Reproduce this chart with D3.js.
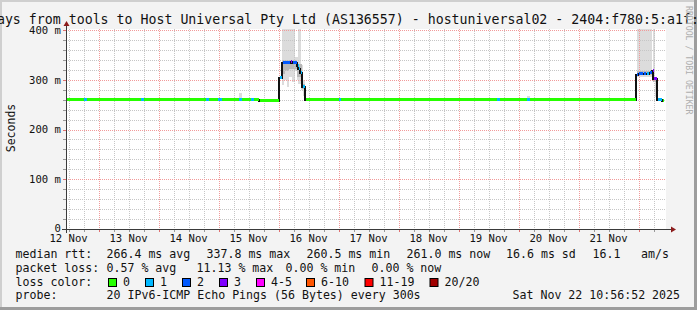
<!DOCTYPE html>
<html>
<head>
<meta charset="utf-8">
<script src="https://cdn.jsdelivr.net/npm/d3@7"></script>
<style>
  html, body { margin: 0; padding: 0; background: #f3f3f3; }
  svg { display: block; }
  text { font-family: "DejaVu Sans Mono", monospace; }
</style>
</head>
<body>
<div id="chart"></div>
<script>
// ---------------- DATA ----------------
const titleText = "10 Days from tools to Host Universal Pty Ltd (AS136557) - hostuniversal02 - 2404:f780:5:a1f::2";
const yAxisTitle = "Seconds";
const watermark = "RRDTOOL / TOBI OETIKER";

// time axis in hours since 12 Nov 00:00 ; graph covers 12 Nov 10:57 -> 22 Nov 10:57
const timeDomain = [10.95, 250.95];
const dayLabels = ["12 Nov", "13 Nov", "14 Nov", "15 Nov", "16 Nov", "17 Nov", "18 Nov", "19 Nov", "20 Nov", "21 Nov"];
const dayLabelHours = [12, 36, 60, 84, 108, 132, 156, 180, 204, 228];

const yDomain = [0, 400];
const yTickValues = [0, 100, 200, 300, 400];
const yTickLabels = ["0", "100 m", "200 m", "300 m", "400 m"];

// median rtt segments: [startHour, endHour, rtt ms, lost pings]
const medianSegments = [
  [10.95, 18.0, 262, 0], [18.0, 19.2, 262, 1], [19.2, 41.0, 262, 0], [41.0, 42.2, 262, 1],
  [42.2, 67.0, 262, 0], [67.0, 68.2, 262, 1], [68.2, 71.6, 262, 0], [71.6, 73.4, 262, 1],
  [73.4, 80.0, 262, 0], [80.0, 81.2, 262, 1], [81.2, 85.0, 262, 0], [85.0, 86.2, 262, 1],
  [86.2, 88.1, 262, 0], [88.1, 96.25, 260, 0],
  [96.25, 97.2, 306, 1], [97.2, 100.5, 336, 2], [100.5, 101.2, 337, 3], [101.2, 103.2, 336, 2],
  [103.2, 103.9, 330, 1], [103.9, 104.6, 323, 1], [104.6, 105.4, 316, 1], [105.4, 106.6, 287, 1],
  [106.6, 120.0, 261, 0], [120.0, 121.0, 261, 1], [121.0, 183.4, 261, 0], [183.4, 184.4, 261, 1],
  [184.4, 195.4, 261, 0], [195.4, 196.4, 261, 1], [196.4, 238.97, 261, 0],
  [238.97, 239.87, 312, 2], [239.87, 241.87, 313, 2], [241.87, 242.83, 314, 2], [242.83, 244.15, 313, 1],
  [244.15, 245.23, 315, 2], [245.23, 245.87, 320, 3], [245.87, 247.15, 303, 3],
  [247.15, 247.87, 262, 0], [247.87, 249.23, 262, 1], [249.23, 249.95, 260, 0]
];

// smoke (ping spread): [startHour, endHour, low ms, high ms]
const smokeOuter = [
  [97.2, 98.0, 290, 430], [98.0, 99.2, 300, 430], [99.2, 100.0, 286, 430], [100.0, 101.2, 305, 430],
  [101.2, 102.6, 295, 430], [102.6, 103.2, 318, 345], [103.2, 103.9, 300, 345], [103.9, 105.0, 292, 430],
  [105.0, 105.6, 280, 330], [105.6, 106.4, 268, 300],
  [80.0, 81.2, 262, 274], [195.4, 196.4, 261, 268],
  [239.2, 245.2, 305, 430], [245.9, 246.7, 298, 430], [246.7, 247.15, 265, 303]
];
const smokeInner = [
  [97.2, 98.4, 312, 340], [98.4, 100.0, 318, 340], [100.0, 103.2, 322, 340],
  [103.2, 105.4, 305, 332], [105.4, 106.4, 282, 292],
  [239.2, 245.2, 310, 318], [245.9, 247.1, 296, 306]
];

const lossLabels = ["0", "1", "2", "3", "4-5", "6-10", "11-19", "20/20"];
const lossColors = ["#26ff00", "#00b8ff", "#0059ff", "#7e00ff", "#ff00ff", "#ff5500", "#ff0000", "#a10000"];

const rttStats = ["266.4 ms avg", "337.8 ms max", "260.5 ms min", "261.0 ms now", "16.6 ms sd", "16.1", "am/s"];
const lossStats = ["0.57 % avg", "11.13 % max", "0.00 % min", "0.00 % now"];
const probeText = "20 IPv6-ICMP Echo Pings (56 Bytes) every 300s";
const stampText = "Sat Nov 22 10:56:52 2025";

// ---------------- LAYOUT ----------------
const W = 697, H = 310;
const plot = { left: 66, right: 666, top: 29, bottom: 229 };

const svg = d3.select("#chart").append("svg").attr("width", W).attr("height", H);

// background + 3D shade
svg.append("rect").attr("x", 0).attr("y", 0).attr("width", W).attr("height", H).attr("fill", "#f3f3f3");
svg.append("path").attr("d", `M0,0 H${W} V2 H2 V${H} H0 Z`).attr("fill", "#cfcfcf");
svg.append("path").attr("d", `M${W},0 V${H} H0 V${H - 3} H${W - 3} V0 Z`).attr("fill", "#9d9d9d");

svg.append("rect").attr("x", plot.left).attr("y", plot.top)
  .attr("width", plot.right - plot.left).attr("height", plot.bottom - plot.top).attr("fill", "#ffffff");

const x = d3.scaleLinear().domain(timeDomain).range([plot.left, plot.right]);
const y = d3.scaleLinear().domain(yDomain).range([plot.bottom, 30]);

svg.append("clipPath").attr("id", "pc").append("rect")
  .attr("x", plot.left).attr("y", plot.top).attr("width", plot.right - plot.left).attr("height", plot.bottom - plot.top);

const gPlot = svg.append("g").attr("clip-path", "url(#pc)").attr("shape-rendering", "crispEdges");

// smoke
gPlot.selectAll("rect.so").data(smokeOuter).join("rect").attr("class", "so")
  .attr("x", d => x(d[0])).attr("width", d => x(d[1]) - x(d[0]))
  .attr("y", d => y(d[3])).attr("height", d => y(d[2]) - y(d[3]))
  .attr("fill", "#dcdcdc");
gPlot.selectAll("rect.si").data(smokeInner).join("rect").attr("class", "si")
  .attr("x", d => x(d[0])).attr("width", d => x(d[1]) - x(d[0]))
  .attr("y", d => y(d[3])).attr("height", d => y(d[2]) - y(d[3]))
  .attr("fill", "#b8b8b8");

// grid
const minorY = d3.range(20, 400, 20).filter(v => v % 100 !== 0);
const majorY = [100, 200, 300, 400];
const hoursAll = d3.range(12, 251, 6);
const majorX = hoursAll.filter(h => h % 24 === 0);
const minorX = hoursAll.filter(h => h % 24 !== 0);

const gGrid = svg.append("g");
gGrid.selectAll("line.my").data(minorY).join("line")
  .attr("x1", plot.left).attr("x2", plot.right)
  .attr("y1", d => Math.round(y(d)) + 0.5).attr("y2", d => Math.round(y(d)) + 0.5)
  .attr("stroke", "#c6c6c6").attr("stroke-dasharray", "1,1");
gGrid.selectAll("line.mx").data(minorX).join("line")
  .attr("y1", plot.top).attr("y2", plot.bottom)
  .attr("x1", d => Math.round(x(d)) + 0.5).attr("x2", d => Math.round(x(d)) + 0.5)
  .attr("stroke", "#c6c6c6").attr("stroke-dasharray", "1,1");
gGrid.selectAll("line.My").data(majorY).join("line")
  .attr("x1", plot.left).attr("x2", plot.right)
  .attr("y1", d => Math.round(y(d)) + 0.5).attr("y2", d => Math.round(y(d)) + 0.5)
  .attr("stroke", "#f19a9a").attr("stroke-dasharray", "1,1");
gGrid.selectAll("line.Mx").data(majorX).join("line")
  .attr("y1", plot.top).attr("y2", plot.bottom)
  .attr("x1", d => Math.round(x(d)) + 0.5).attr("x2", d => Math.round(x(d)) + 0.5)
  .attr("stroke", "#f19a9a").attr("stroke-dasharray", "1,1");

// median: black step line (vertical joins) then colored segments
const gLine = svg.append("g").attr("clip-path", "url(#pc)").attr("shape-rendering", "crispEdges");
const stepPts = [];
medianSegments.forEach(s => stepPts.push([s[0], s[2]]));
const last = medianSegments[medianSegments.length - 1];
stepPts.push([last[1], last[2]]);
const stepLine = d3.line().x(d => Math.round(x(d[0]))).y(d => Math.round(y(d[1])) + 0.5).curve(d3.curveStepAfter);
gLine.append("path").attr("d", stepLine(stepPts)).attr("fill", "none")
  .attr("stroke", "#111").attr("stroke-width", 2);

const lossIndex = n => n <= 3 ? n : n <= 5 ? 4 : n <= 10 ? 5 : n <= 19 ? 6 : 7;
gLine.selectAll("rect.seg").data(medianSegments).join("rect").attr("class", "seg")
  .attr("x", (d, i) => Math.round(x(d[0])) + (i > 0 && medianSegments[i - 1][2] !== d[2] ? 1 : 0))
  .attr("width", (d, i) => Math.max(1, Math.round(x(d[1])) - Math.round(x(d[0])) - (i > 0 && medianSegments[i - 1][2] !== d[2] ? 1 : 0)))
  .attr("y", d => Math.round(y(d[2])) - 1).attr("height", 3)
  .attr("fill", d => lossColors[lossIndex(d[3])]);

// axes
const axisCol = "#3a3a3a";
svg.selectAll("line.yt").data(minorY).join("line")
  .attr("x1", plot.left - 3).attr("x2", plot.left)
  .attr("y1", d => Math.round(y(d)) + 0.5).attr("y2", d => Math.round(y(d)) + 0.5)
  .attr("stroke", "#999");
svg.selectAll("line.yT").data(majorY).join("line")
  .attr("x1", plot.left - 3).attr("x2", plot.left)
  .attr("y1", d => Math.round(y(d)) + 0.5).attr("y2", d => Math.round(y(d)) + 0.5)
  .attr("stroke", "#e07070");
svg.selectAll("line.xt").data(minorX).join("line")
  .attr("y1", plot.bottom).attr("y2", plot.bottom + 3)
  .attr("x1", d => Math.round(x(d)) + 0.5).attr("x2", d => Math.round(x(d)) + 0.5)
  .attr("stroke", "#999");
svg.selectAll("line.xT").data(majorX).join("line")
  .attr("y1", plot.bottom).attr("y2", plot.bottom + 3)
  .attr("x1", d => Math.round(x(d)) + 0.5).attr("x2", d => Math.round(x(d)) + 0.5)
  .attr("stroke", "#e07070");

svg.append("line").attr("x1", plot.left - 4).attr("x2", plot.right + 6)
  .attr("y1", plot.bottom + 0.5).attr("y2", plot.bottom + 0.5).attr("stroke", axisCol);
svg.append("line").attr("x1", plot.left + 0.5).attr("x2", plot.left + 0.5)
  .attr("y1", plot.bottom + 4).attr("y2", plot.top - 4).attr("stroke", axisCol);
svg.append("path").attr("d", `M${plot.right + 10},${plot.bottom + 0.5} l-5,-3 v6 z`).attr("fill", "#8c1c1c");
svg.append("path").attr("d", `M${plot.left + 0.5},${plot.top - 8} l-3,5 h6 z`).attr("fill", "#8c1c1c");

// y labels
svg.selectAll("text.yl").data(yTickValues).join("text")
  .attr("x", 61).attr("y", d => y(d) - (d === 0 ? 1 : 0)).attr("dy", "0.36em")
  .attr("text-anchor", "end").attr("font-size", "10.6px").attr("fill", "#111")
  .text((d, i) => yTickLabels[i]);

// x labels
svg.selectAll("text.xl").data(dayLabels).join("text")
  .attr("x", (d, i) => x(dayLabelHours[i])).attr("y", 241.5)
  .attr("text-anchor", "middle").attr("font-size", "10.6px").attr("fill", "#111")
  .text(d => d);

// axis title
svg.append("text").attr("transform", "translate(14.5,128) rotate(-90)")
  .attr("text-anchor", "middle").attr("font-size", "11.5px").attr("fill", "#111").text(yAxisTitle);

// title
svg.append("text").attr("x", -35).attr("y", 23.5).attr("font-size", "13.25px").attr("fill", "#111").text(titleText);

// watermark
svg.append("text").attr("transform", "translate(686,6) rotate(90)")
  .attr("font-size", "8.2px").attr("fill", "#aeaeae").text(watermark);

// legend
const leg = svg.append("g").attr("font-size", "11.6px").attr("fill", "#111");
const rowY = [258, 271.8, 285.6, 299.4];
leg.append("text").attr("x", 15.5).attr("y", rowY[0]).text("median rtt:");
const rttX = [106.5, 206.5, 306.5, 406.5, 506, 592.5, 641];
rttStats.forEach((t, i) => leg.append("text").attr("x", rttX[i]).attr("y", rowY[0]).text(t));
leg.append("text").attr("x", 15.5).attr("y", rowY[1]).text("packet loss:");
const lossX = [106.5, 196.5, 285.5, 371.5];
lossStats.forEach((t, i) => leg.append("text").attr("x", lossX[i]).attr("y", rowY[1]).text(t));
leg.append("text").attr("x", 15.5).attr("y", rowY[2]).text("loss color:");
const boxX = [108.5, 145.5, 182.5, 219.5, 256.5, 306.5, 365, 430];
lossLabels.forEach((t, i) => {
  leg.append("rect").attr("x", boxX[i]).attr("y", 278.5).attr("width", 8).attr("height", 8)
    .attr("fill", lossColors[i]).attr("stroke", "#000").attr("stroke-width", 1);
  leg.append("text").attr("x", boxX[i] + 14.5).attr("y", rowY[2]).text(t);
});
leg.append("text").attr("x", 15.5).attr("y", rowY[3]).text("probe:");
leg.append("text").attr("x", 106.5).attr("y", rowY[3]).text(probeText);
leg.append("text").attr("x", 512.5).attr("y", rowY[3]).text(stampText);
</script>
</body>
</html>
